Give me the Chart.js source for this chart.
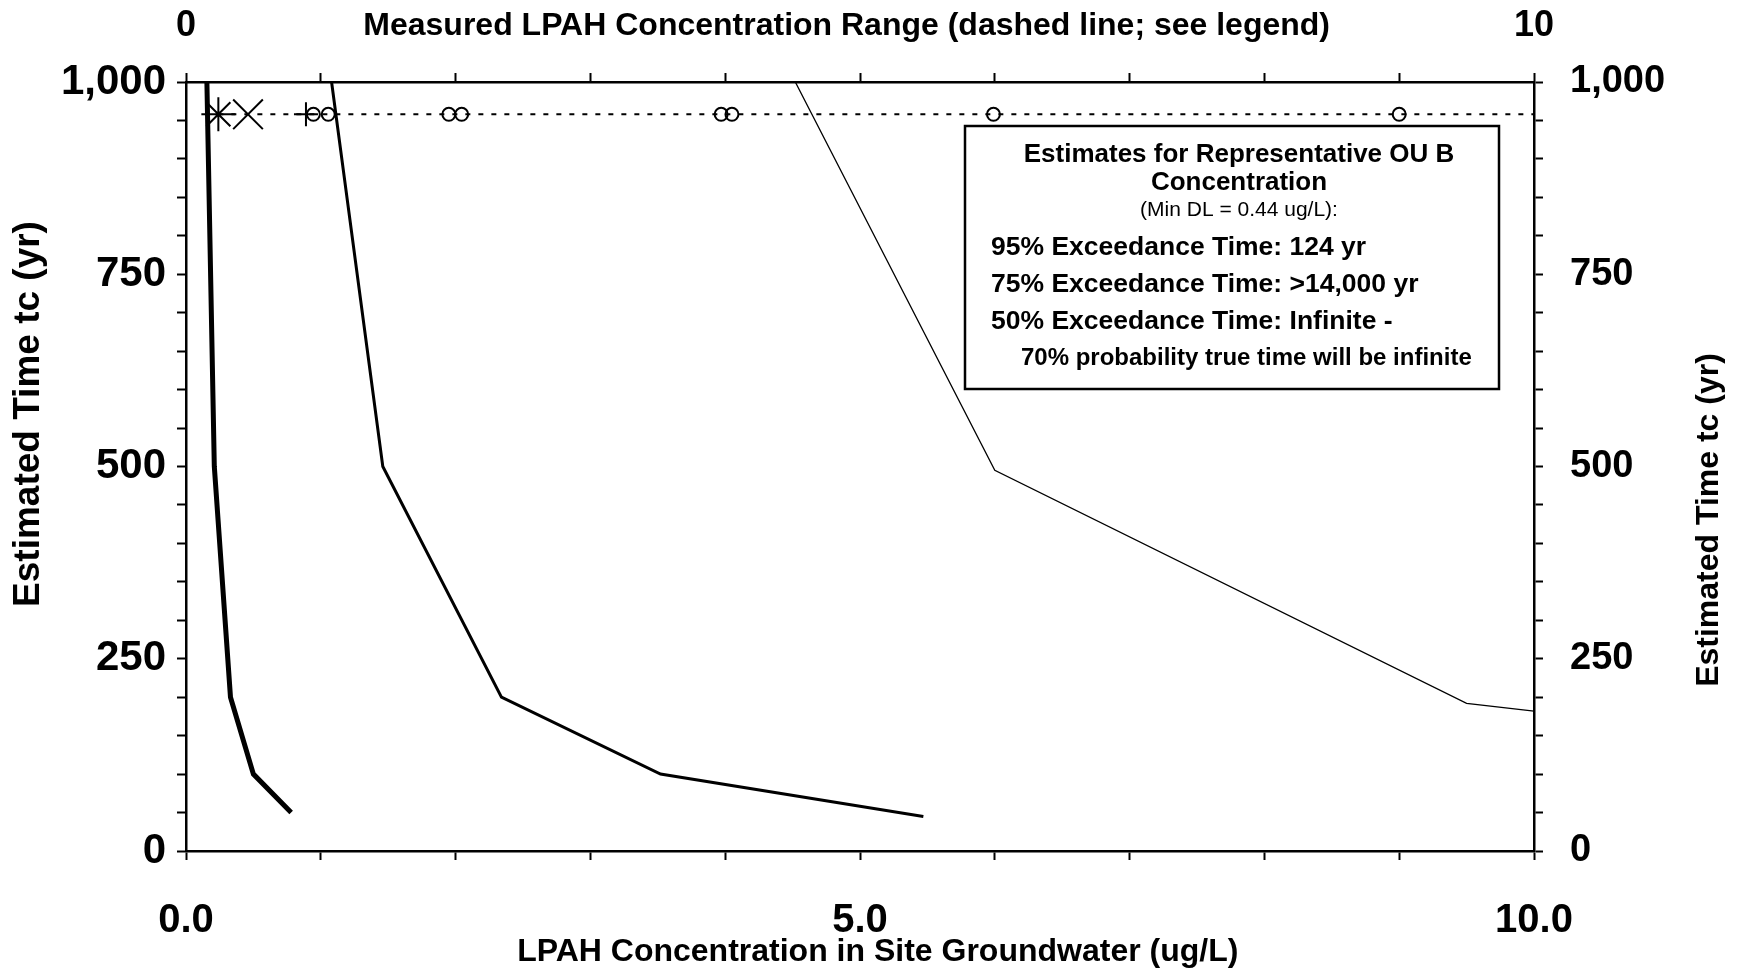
<!DOCTYPE html>
<html>
<head>
<meta charset="utf-8">
<title>LPAH exceedance time</title>
<script src="https://cdn.jsdelivr.net/npm/chart.js@4.4.0/dist/chart.umd.min.js"></script>
<style>
  html, body { margin: 0; padding: 0; background: #fff; }
  #wrap { width: 1737px; height: 973px; }
</style>
</head>
<body>
<div id="wrap"><canvas id="myChart"></canvas></div>
<script>
const FONT = "'Liberation Sans', Arial, Helvetica, sans-serif";

// exceedance curves (x = ug/L, y = years)
const thickX = [0.155, 0.21, 0.33, 0.50, 0.78];
const thickY = [1000, 500, 200, 100, 50];
const mediumX = [1.08, 1.46, 2.34, 3.52, 5.47];
const mediumY = [1000, 500, 200, 100, 45];
const thinX = [4.52, 6.0, 9.5, 10.0];
const thinY = [1000, 495, 192, 182];

// measured concentration range (dashed line) and its symbols
const rangeX = [0.24, 10.0];
const rangeY = [958, 958];
const measX = [0.24, 0.46, 0.89, 0.945, 1.055, 1.95, 2.045, 3.97, 4.05, 5.99, 9.0];
const measY = [958, 958, 958, 958, 958, 958, 958, 958, 958, 958, 958];
const measSymbol = ['star', 'crossRot', 'cross', 'circle', 'circle', 'circle', 'circle', 'circle', 'circle', 'circle', 'circle'];
const measSize = [17, 21, 12, 6.5, 6.5, 6.5, 6.5, 6.5, 6.5, 6.5, 6.5];

// labelled ticks
const yTickLabels = [0, 250, 500, 750, 1000];
const xTickLabels = [0, 5, 10];
const topTickLabels = [0, 10];

const boxTitle = ['Estimates for Representative OU B', 'Concentration'];
const boxSub = '(Min DL = 0.44 ug/L):';
const boxLines = ['95% Exceedance Time: 124 yr', '75% Exceedance Time: >14,000 yr', '50% Exceedance Time: Infinite -'];
const boxFoot = '70% probability true time will be infinite';

const toPts = (xs, ys) => xs.map((x, i) => ({ x: x, y: ys[i] }));

const notes = {
    id: 'notes',
    afterDraw(chart) {
        const ctx = chart.ctx;
        ctx.save();
        ctx.fillStyle = '#000';
        ctx.textBaseline = 'middle';
        ctx.textAlign = 'center';
        ctx.font = 'bold 37px ' + FONT;
        ctx.translate(29, 414);
        ctx.rotate(-Math.PI / 2);
        ctx.fillText('Estimated Time tc (yr)', 0, 0);
        ctx.setTransform(1, 0, 0, 1, 0, 0);
        ctx.font = 'bold 32px ' + FONT;
        ctx.translate(1709, 520);
        ctx.rotate(-Math.PI / 2);
        ctx.fillText('Estimated Time tc (yr)', 0, 0);
        ctx.setTransform(1, 0, 0, 1, 0, 0);

        // estimates box
        ctx.fillStyle = '#fff';
        ctx.fillRect(965, 126, 534, 263);
        ctx.strokeStyle = '#000';
        ctx.lineWidth = 2.5;
        ctx.strokeRect(965, 126, 534, 263);
        ctx.fillStyle = '#000';
        ctx.textBaseline = 'alphabetic';
        ctx.textAlign = 'center';
        ctx.font = 'bold 26px ' + FONT;
        ctx.fillText(boxTitle[0], 1239, 162);
        ctx.fillText(boxTitle[1], 1239, 190);
        ctx.font = '21px ' + FONT;
        ctx.fillText(boxSub, 1239, 216);
        ctx.textAlign = 'left';
        ctx.font = 'bold 26.5px ' + FONT;
        ctx.fillText(boxLines[0], 991, 255);
        ctx.fillText(boxLines[1], 991, 292);
        ctx.fillText(boxLines[2], 991, 329);
        ctx.font = 'bold 24px ' + FONT;
        ctx.fillText(boxFoot, 1021, 365);
        ctx.restore();
    }
};

const axisLine = { display: true, color: '#000', width: 2.5 };
const tickGrid = { drawOnChartArea: false, drawTicks: true, tickLength: 9, tickColor: '#000', tickWidth: 2 };

const ctx = document.getElementById('myChart').getContext('2d');
const myChart = new Chart(ctx, {
    type: 'scatter',
    data: {
        datasets: [
            { data: toPts(thickX, thickY), showLine: true, borderColor: '#000', borderWidth: 5, pointRadius: 0 },
            { data: toPts(mediumX, mediumY), showLine: true, borderColor: '#000', borderWidth: 3, pointRadius: 0 },
            { data: toPts(thinX, thinY), showLine: true, borderColor: '#000', borderWidth: 1.3, pointRadius: 0 },
            { data: toPts(rangeX, rangeY), showLine: true, borderColor: '#000', borderWidth: 2, borderDash: [5, 8], pointRadius: 0 },
            {
                data: toPts(measX, measY), showLine: false,
                pointStyle: measSymbol, pointRadius: measSize,
                borderColor: '#000', backgroundColor: 'rgba(0,0,0,0)', borderWidth: 2
            }
        ]
    },
    options: {
        responsive: true,
        maintainAspectRatio: false,
        animation: false,
        layout: { padding: 0 },
        plugins: { legend: { display: false }, tooltip: { enabled: false } },
        scales: {
            x: {
                type: 'linear', position: 'bottom', min: 0, max: 10,
                afterFit: s => { s.height = 122; },
                ticks: {
                    stepSize: 1, autoSkip: false, maxRotation: 0, padding: 37, color: '#000',
                    font: { family: FONT, size: 40, weight: 'bold' },
                    callback: v => xTickLabels.includes(v) ? v.toFixed(1) : ''
                },
                grid: tickGrid,
                border: axisLine,
                title: {
                    display: true, text: '    LPAH Concentration in Site Groundwater (ug/L)', color: '#000',
                    font: { family: FONT, size: 32, weight: 'bold' }, padding: { top: 0, bottom: 2 }
                }
            },
            x2: {
                type: 'linear', position: 'top', min: 0, max: 10,
                afterFit: s => { s.height = 82; },
                ticks: {
                    stepSize: 1, autoSkip: false, maxRotation: 0, padding: 25, color: '#000',
                    font: { family: FONT, size: 36, weight: 'bold' },
                    callback: v => topTickLabels.includes(v) ? String(v) : ''
                },
                grid: tickGrid,
                border: axisLine,
                title: {
                    display: true, text: 'Measured LPAH Concentration Range (dashed line; see legend)   ', color: '#000',
                    font: { family: FONT, size: 32, weight: 'bold' }, padding: { top: 7, bottom: 0 }
                }
            },
            y: {
                type: 'linear', position: 'left', min: 0, max: 1000,
                afterFit: s => { s.width = 186; },
                ticks: {
                    stepSize: 50, autoSkip: false, padding: 11, color: '#000',
                    font: { family: FONT, size: 42, weight: 'bold' },
                    callback: v => yTickLabels.includes(v) ? v.toLocaleString('en-US') : ''
                },
                grid: tickGrid,
                border: axisLine
            },
            y2: {
                type: 'linear', position: 'right', min: 0, max: 1000,
                afterFit: s => { s.width = 203; },
                ticks: {
                    stepSize: 50, autoSkip: false, padding: 27, color: '#000',
                    font: { family: FONT, size: 38, weight: 'bold' },
                    callback: v => yTickLabels.includes(v) ? v.toLocaleString('en-US') : ''
                },
                grid: tickGrid,
                border: axisLine
            }
        }
    },
    plugins: [notes]
});
</script>
</body>
</html>
